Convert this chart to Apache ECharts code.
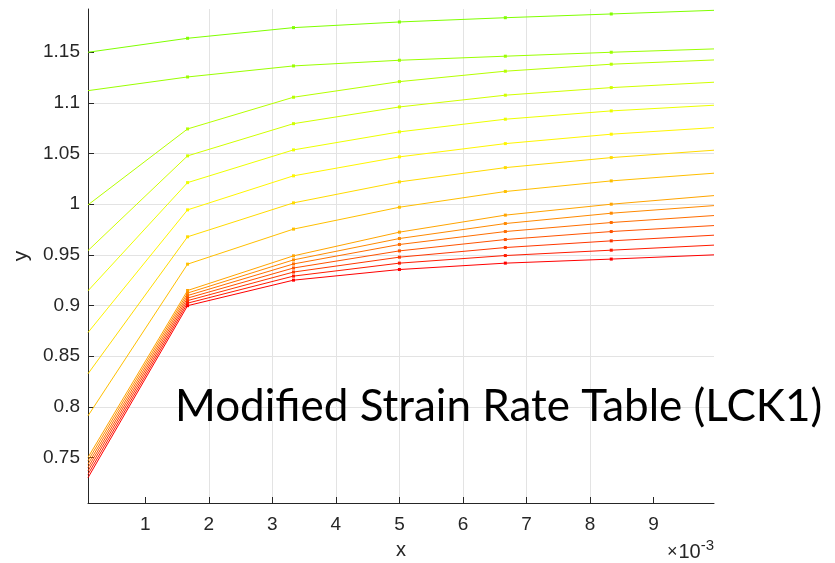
<!DOCTYPE html>
<html>
<head>
<meta charset="utf-8">
<script src="https://cdn.jsdelivr.net/npm/echarts@6/dist/echarts.min.js"></script>
<style>
  html, body { margin: 0; padding: 0; background: #fff; }
  #chart { width: 835px; height: 563px; }
</style>
</head>
<body>
<div id="chart"></div>
<script>
// strain rate sample points (x)
const strainRates = [0.0001, 0.0016667, 0.0033333, 0.005, 0.0066667, 0.0083333, 0.00995];

// table curves (y), top to bottom
const curve01 = [1.150, 1.1638, 1.1743, 1.1799, 1.1841, 1.1878, 1.1914];
const curve02 = [1.1121, 1.1256, 1.1365, 1.1421, 1.1461, 1.1500, 1.1533];
const curve03 = [0.9993, 1.0743, 1.1056, 1.1210, 1.1313, 1.1382, 1.1424];
const curve04 = [0.9542, 1.0477, 1.0795, 1.0960, 1.1076, 1.1151, 1.1204];
const curve05 = [0.9145, 1.0213, 1.0536, 1.0714, 1.0839, 1.0921, 1.0977];
const curve06 = [0.8733, 0.9944, 1.0280, 1.0467, 1.0598, 1.0691, 1.0756];
const curve07 = [0.8326, 0.9678, 1.0013, 1.0220, 1.0361, 1.0460, 1.0533];
const curve08 = [0.7911, 0.9408, 0.9754, 0.9970, 1.0125, 1.0230, 1.0306];
const curve09 = [0.7500, 0.9148, 0.9490, 0.9724, 0.9892, 1.0000, 1.0085];
const curve10 = [0.7467, 0.9123, 0.9450, 0.9661, 0.9809, 0.9911, 0.9986];
const curve11 = [0.7433, 0.9098, 0.9410, 0.9602, 0.9730, 0.9819, 0.9888];
const curve12 = [0.7400, 0.9073, 0.9370, 0.9539, 0.9651, 0.9730, 0.9789];
const curve13 = [0.7367, 0.9048, 0.9330, 0.9477, 0.9572, 0.9638, 0.9694];
const curve14 = [0.7333, 0.9023, 0.9290, 0.9418, 0.9493, 0.9546, 0.9596];
const curve15 = [0.7300, 0.8998, 0.9250, 0.9355, 0.9418, 0.9458, 0.9500];

const curves = [curve01, curve02, curve03, curve04, curve05, curve06, curve07, curve08,
  curve09, curve10, curve11, curve12, curve13, curve14, curve15];

// tick values
const xTicks = [0.001, 0.002, 0.003, 0.004, 0.005, 0.006, 0.007, 0.008, 0.009];
const yTicks = [0.75, 0.8, 0.85, 0.9, 0.95, 1, 1.05, 1.1, 1.15];

// green -> yellow -> red
const lineColors = ['#80ff00', '#9bff00', '#b6ff00', '#d1ff00', '#edff00', '#fff600', '#ffdb00',
  '#ffbf00', '#ffa400', '#ff8900', '#ff6d00', '#ff5200', '#ff3700', '#ff1b00', '#ff0000'];

const axisColor = '#262626';
const labelFont = 'Liberation Sans';

const chart = echarts.init(document.getElementById('chart'));

const series = curves.map((c, k) => ({
  type: 'line',
  data: c.map((y, i) => {
    const item = { value: [strainRates[i], y] };
    // no marker on the end points
    if (i === 0 || i === c.length - 1) item.symbol = 'none';
    return item;
  }),
  symbol: 'rect',
  symbolSize: 3,
  showSymbol: true,
  lineStyle: { width: 1, color: lineColors[k] },
  itemStyle: { color: lineColors[k] },
  emphasis: { disabled: true },
  z: 3
}));

chart.setOption({
  animation: false,
  backgroundColor: '#fff',
  grid: { left: 88, right: 121, top: 9, bottom: 60, outerBoundsMode: 'none' },
  xAxis: {
    type: 'value',
    min: 0.0001,
    max: 0.00995,
    minInterval: 0.001,
    maxInterval: 0.001,
    name: 'x',
    nameLocation: 'middle',
    nameGap: 37,
    nameTextStyle: { color: axisColor, fontSize: 20, fontFamily: labelFont },
    axisLine: { lineStyle: { color: axisColor, width: 1 } },
    axisTick: { inside: true, length: 6, customValues: xTicks, lineStyle: { color: axisColor } },
    axisLabel: {
      customValues: xTicks,
      formatter: v => String(Math.round(v * 1000)),
      color: axisColor,
      fontSize: 19,
      fontFamily: labelFont,
      margin: 12
    },
    splitLine: { show: true, showMinLine: false, showMaxLine: false, lineStyle: { color: '#e3e3e3', width: 1 } }
  },
  yAxis: {
    type: 'value',
    min: 0.705,
    max: 1.1927,
    minInterval: 0.05,
    maxInterval: 0.05,
    name: 'y',
    nameLocation: 'middle',
    nameGap: 52,
    nameTextStyle: { color: axisColor, fontSize: 21, fontFamily: labelFont },
    axisLine: { show: true, lineStyle: { color: axisColor, width: 1 } },
    axisTick: { show: true, inside: true, length: 6, customValues: yTicks, lineStyle: { color: axisColor } },
    axisLabel: {
      customValues: yTicks,
      formatter: v => String(+v.toFixed(2)),
      color: axisColor,
      fontSize: 19,
      fontFamily: labelFont,
      margin: 8
    },
    splitLine: { show: true, showMinLine: false, showMaxLine: false, lineStyle: { color: '#e3e3e3', width: 1 } }
  },
  graphic: [
    {
      type: 'text',
      right: 121,
      bottom: 1,
      style: {
        text: '{m|×}{b|10}{s|-3}',
        rich: {
          m: { fontSize: 18, fontFamily: labelFont, fill: axisColor, padding: [0, 1, 0, 0] },
          b: { fontSize: 20, fontFamily: labelFont, fill: axisColor },
          s: { fontSize: 15, fontFamily: labelFont, fill: axisColor, padding: [0, 0, 13, 0] }
        }
      },
      z: 10
    },
    {
      type: 'text',
      left: 175,
      top: 385,
      style: {
        text: 'Modified Strain Rate Table (LCK1)',
        fontSize: 44,
        fontFamily: 'Lato',
        fill: '#000'
      },
      z: 10
    }
  ],
  series: series
});
</script>
</body>
</html>
